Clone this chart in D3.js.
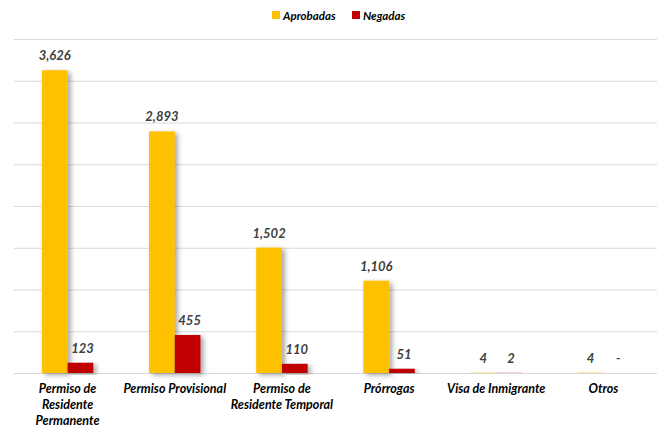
<!DOCTYPE html>
<html>
<head>
<meta charset="utf-8">
<script src="https://cdn.jsdelivr.net/npm/d3@7"></script>
<style>
  body { margin: 0; background: #fff; }
  svg { font-family: Lato, "Open Sans", sans-serif; }
</style>
</head>
<body>
<svg width="659" height="429"></svg>
<script>
var categories = [
    ["Permiso de", "Residente", "Permanente"],
    ["Permiso Provisional"],
    ["Permiso de", "Residente Temporal"],
    ["Prórrogas"],
    ["Visa de Inmigrante"],
    ["Otros"]
]
var seriesNames = ["Aprobadas", "Negadas"]
var colors = ["#ffc000", "#c00000"]
var aprobadas = [3626, 2893, 1502, 1106, 4, 4]
var negadas = [123, 455, 110, 51, 2, null]
var yTicks = [0, 500, 1000, 1500, 2000, 2500, 3000, 3500, 4000]

window.onload = function () {
    var svg = d3.select("svg")
    var left = 14, right = 657, top = 39, bottom = 373

    var defs = svg.append("defs")
    var f = defs.append("filter").attr("id", "shadow")
        .attr("x", "-20%").attr("y", "-5%").attr("width", "160%").attr("height", "120%")
    f.append("feDropShadow")
        .attr("dx", 3).attr("dy", 2).attr("stdDeviation", 2.5)
        .attr("flood-color", "#000").attr("flood-opacity", 0.35)

    var x = d3.scaleBand()
        .domain(d3.range(categories.length))
        .range([left, right])
        .paddingInner(0.52)
        .paddingOuter(0.26)
    var x1 = d3.scaleBand().domain([0, 1]).range([0, x.bandwidth()])
    var y = d3.scaleLinear().domain([0, 4000]).range([bottom, top])

    // gridlines
    svg.append("g")
        .selectAll("line")
        .data(yTicks)
        .enter().append("line")
        .attr("x1", left).attr("x2", right)
        .attr("y1", function (d) { return y(d) + 0.5 })
        .attr("y2", function (d) { return y(d) + 0.5 })
        .attr("stroke", "#d9d9d9")
        .attr("stroke-width", 1)

    var rows = categories.map(function (c, i) {
        return [
            { i: i, s: 0, v: aprobadas[i] },
            { i: i, s: 1, v: negadas[i] }
        ]
    })

    var groups = svg.append("g").selectAll("g")
        .data(rows)
        .enter().append("g")
        .attr("transform", function (d, i) { return "translate(" + x(i) + ",0)" })

    groups.selectAll("rect")
        .data(function (d) { return d.filter(function (e) { return e.v })})
        .enter().append("rect")
        .attr("x", function (d) { return x1(d.s) })
        .attr("width", x1.bandwidth())
        .attr("y", function (d) { return y(d.v) })
        .attr("height", function (d) { return y(0) - y(d.v) })
        .attr("fill", function (d) { return colors[d.s] })
        .attr("filter", "url(#shadow)")

    groups.selectAll("text")
        .data(function (d) { return d })
        .enter().append("text")
        .attr("x", function (d) { return x1(d.s) + x1.bandwidth() / 2 + (d.s ? 2 : 0) })
        .attr("y", function (d) { return y(d.v || 0) - 10 })
        .attr("text-anchor", "middle")
        .attr("font-size", 13)
        .attr("font-weight", "bold")
        .attr("font-style", "italic")
        .attr("fill", "#404040")
        .text(function (d) { return d.v == null ? "-" : d3.format(",")(d.v) })

    // category labels
    var xl = svg.append("g").selectAll("text")
        .data(categories)
        .enter().append("text")
        .attr("x", function (d, i) { return x(i) + x.bandwidth() / 2 })
        .attr("y", 393)
        .attr("text-anchor", "middle")
        .attr("font-size", 12.5)
        .attr("font-weight", "bold")
        .attr("font-style", "italic")
        .attr("fill", "#000")
    xl.selectAll("tspan")
        .data(function (d) { return d })
        .enter().append("tspan")
        .attr("x", function () { return d3.select(this.parentNode).attr("x") })
        .attr("dy", function (d, j) { return j ? 16 : 0 })
        .text(function (d) { return d })

    // legend
    var legend = svg.append("g")
    var lx = [272, 352]
    seriesNames.forEach(function (n, i) {
        legend.append("rect")
            .attr("x", lx[i]).attr("y", 11)
            .attr("width", 8).attr("height", 8)
            .attr("fill", colors[i])
        legend.append("text")
            .attr("x", lx[i] + 11).attr("y", 19.5)
            .attr("font-size", 11.5)
            .attr("font-weight", "bold")
            .attr("font-style", "italic")
            .text(n)
    })
}
</script>
</body>
</html>
